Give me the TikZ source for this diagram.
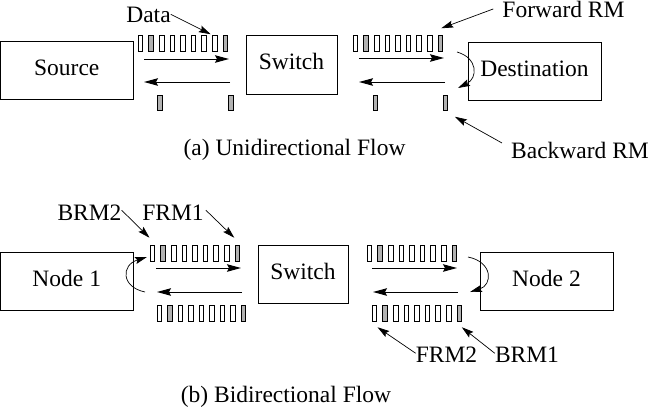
\documentclass[tikz,border=0pt]{standalone}
\usepackage{fontspec}
\setmainfont{Liberation Serif}
\usetikzlibrary{arrows.meta,calc}
\tikzset{
  cell/.style={draw, line width=0.8pt, minimum width=4.6pt, minimum height=15.5pt, inner sep=0pt, outer sep=0pt},
  box/.style={draw, line width=1pt, inner sep=0pt, minimum height=58pt, text height=13pt, text depth=3pt},
  flow/.style={line width=1pt, -{Stealth[length=14pt,width=7.5pt,inset=2pt]}},
  pointer/.style={line width=0.7pt, -{Stealth[length=12pt,width=7pt,inset=2pt]}},
  loopar/.style={line width=0.7pt, -{Stealth[length=12pt,width=7pt,inset=2pt]}},
  lbl/.style={anchor=base, inner sep=0pt},
}
\newcommand\cellrow[4]{%
  \foreach \i in {1,...,9}{%
    \ifnum\i=2 \def\fc{black!30}\else\ifnum\i=9 \def\fc{black!30}\else\def\fc{white}\fi\fi
    \node[cell, fill=\fc] (#1\i) at ({#2+(\i-1)*#3},#4) {};
  }%
}
\begin{document}
\begin{tikzpicture}[x=1pt,y=-1pt,font=\fontsize{23.5}{28}\selectfont]
\useasboundingbox (0,0) rectangle (649,416);
% ---------- (a) ----------
\node[box, minimum width=132.5pt] (src) at (66.75,70.5) {Source};
\node[box, minimum width=91pt, minimum height=59pt] (swa) at (291.5,64.5) {Switch};
\node[box, minimum width=133pt] (dst) at (534.5,71) {Destination};

\cellrow{A}{140.5}{10.6}{43.5}
\node[cell, fill=black!30] (Al1) at (160,103) {};
\node[cell, fill=black!30] (Al2) at (231,103) {};
\cellrow{B}{355.5}{10.6}{43.5}
\node[cell, fill=black!30] (Bl1) at (375.5,103) {};
\node[cell, fill=black!30] (Bl2) at (445.5,103) {};

\coordinate (a1s) at (144,59);  \coordinate (a1e) at (229,59);
\coordinate (a2s) at (230,82);  \coordinate (a2e) at (144,82);
\coordinate (a3s) at (359,58);  \coordinate (a3e) at (444,58);
\coordinate (a4s) at (445,82);  \coordinate (a4e) at (359,82);
\draw[flow] (a1s) -- (a1e);
\draw[flow] (a2s) -- (a2e);
\draw[flow] (a3s) -- (a3e);
\draw[flow] (a4s) -- (a4e);

\coordinate (la1) at (457,52); \coordinate (la2) at (458,88);
\draw[loopar] (la1) .. controls (478,58) and (478,78) .. (la2);

\node[lbl] (data) at (148.5,22) {Data};
\node[lbl] (fwd) at (563.5,17) {Forward RM};
\node[lbl] (bwd) at (580,158) {Backward RM};
\draw[pointer] (data.east) -- ($(A8.north)+(-4,-1.5)$);
\draw[pointer] ($(fwd.west)+(-9,0)$) -- ($(B9.north)+(1,-7.5)$);
\draw[pointer] ($(bwd.west)+(-9,-7)$) -- ($(Bl2.south)+(9.5,6)$);

\node[lbl] (capa) at (294.5,155) {(a) Unidirectional Flow};

% ---------- (b) ----------
\node[box, minimum width=132.5pt] (n1) at (66.75,281) {Node 1};
\node[box, minimum width=90pt] (swb) at (303,274) {Switch};
\node[box, minimum width=133pt] (n2) at (546.5,281) {Node 2};

\cellrow{C}{152.5}{10.6}{253.5}
\cellrow{Cl}{159.5}{10.5}{313.5}
\cellrow{D}{369.5}{10.6}{253.5}
\cellrow{Dl}{374.5}{10.6}{313.5}

\coordinate (b1s) at (156,268); \coordinate (b1e) at (241,268);
\coordinate (b2s) at (242,292); \coordinate (b2e) at (157,292);
\coordinate (b3s) at (372,268); \coordinate (b3e) at (457,268);
\coordinate (b4s) at (458,292); \coordinate (b4e) at (373,292);
\draw[flow] (b1s) -- (b1e);
\draw[flow] (b2s) -- (b2e);
\draw[flow] (b3s) -- (b3e);
\draw[flow] (b4s) -- (b4e);

\coordinate (lb1) at (145,292); \coordinate (lb2) at (147,257);
\draw[loopar] (lb1) .. controls (121,287) and (121,265) .. (lb2);
\coordinate (lc1) at (468,257); \coordinate (lc2) at (470,292);
\draw[loopar] (lc1) .. controls (493,262) and (493,285) .. (lc2);

\node[lbl] (brm2) at (89.5,220) {BRM2};
\node[lbl] (frm1) at (173,220) {FRM1};
\node[lbl] (frm2) at (446.5,362) {FRM2};
\node[lbl] (brm1) at (527,362) {BRM1};
\draw[pointer] ($(brm2.east)+(0,-2)$) -- ($(C1.north)+(-3,-8)$);
\draw[pointer] ($(frm1.east)+(2,-2)$) -- ($(C9.north)+(-3,-8)$);
\draw[pointer] ($(frm2.west)+(0,-1)$) -- ($(Dl1.south)+(3,6)$);
\draw[pointer] ($(brm1.west)+(0,-1)$) -- ($(Dl9.south)+(2.5,6)$);

\node[lbl] (capb) at (286,402) {(b) Bidirectional Flow};
\end{tikzpicture}
\end{document}
